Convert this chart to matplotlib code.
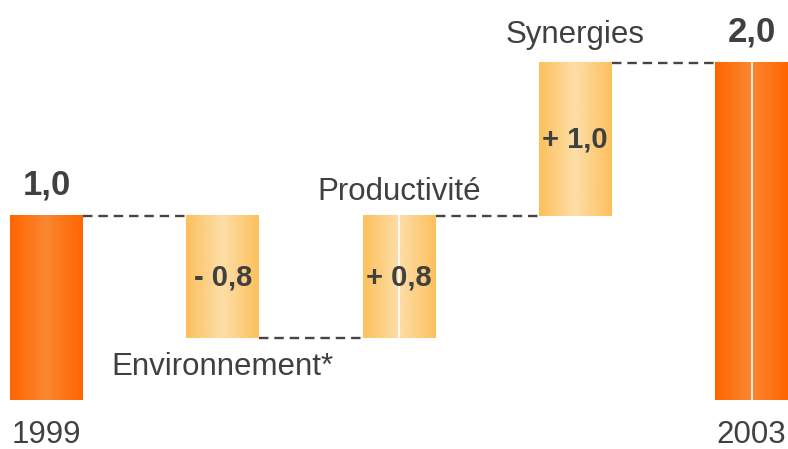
import numpy as np
import matplotlib
matplotlib.use("Agg")
import matplotlib.pyplot as plt
from matplotlib.colors import LinearSegmentedColormap

# ---- data (heights as drawn, in units of the 1999 bar) ----
categories = ["1999", "Environnement*", "Productivité", "Synergies", "2003"]
deltas = [1.0, -0.663, 0.663, 0.832, 1.832]
kinds = ["total", "delta", "delta", "delta", "total"]
value_labels = ["1,0", "- 0,8", "+ 0,8", "+ 1,0", "2,0"]
split_bar = [False, False, True, False, True]

plt.rcParams['font.family'] = ['Liberation Sans', 'DejaVu Sans']

fig = plt.figure(figsize=(7.88, 4.49), dpi=100)
ax = fig.add_axes([0, 0, 1, 1])
ax.set_xlim(-0.264, 4.207)
ax.set_ylim(-0.266, 2.174)
ax.axis("off")

dark_cmap = LinearSegmentedColormap.from_list("d", ["#FF6500", "#FA8732", "#FF6500"])
light_cmap = LinearSegmentedColormap.from_list("l", ["#FDC05C", "#FDDEA8", "#FDC05C"])
grad = np.linspace(0, 1, 256).reshape(1, -1)

width = 0.414
running = 0.0
tops = []
for i, (d, k) in enumerate(zip(deltas, kinds)):
    if k == "total":
        lo, hi = 0.0, d
        running = d
    else:
        start = running
        running = running + d
        lo, hi = min(start, running), max(start, running)
    tops.append((lo, hi))
    cmap = dark_cmap if k == "total" else light_cmap
    ax.imshow(grad, cmap=cmap, aspect="auto", interpolation="bilinear",
              extent=[i - width / 2, i + width / 2, lo, hi], zorder=2)
    if split_bar[i]:
        ax.plot([i, i], [lo, hi], color="white", lw=1.2, zorder=3)

# connectors
levels = []
run = 0.0
for i, (d, k) in enumerate(zip(deltas, kinds)):
    run = d if k == "total" else run + d
    levels.append(run)
for i in range(len(categories) - 1):
    y = levels[i]
    ax.plot([i + width / 2, i + 1 - width / 2], [y, y], color="#454545",
            lw=1.7, ls=(0, (4, 2.5)), zorder=1)

txt = "#404040"
# totals labels above
ax.text(0, tops[0][1] + 0.08, value_labels[0], ha="center", va="bottom",
        fontsize=25, fontweight="bold", color=txt)
ax.text(4, tops[4][1] + 0.08, value_labels[4], ha="center", va="bottom",
        fontsize=25, fontweight="bold", color=txt)
# delta labels inside
for i in (1, 2, 3):
    lo, hi = tops[i]
    ax.text(i, (lo + hi) / 2, value_labels[i], ha="center", va="center",
            fontsize=21, fontweight="bold", color=txt, zorder=4)

# category labels
fs = 22.5
ax.text(0, -0.19, categories[0], ha="center", va="center", fontsize=fs, color=txt)
ax.text(4, -0.19, categories[4], ha="center", va="center", fontsize=fs, color=txt)
ax.text(1, tops[1][0] - 0.16, categories[1], ha="center", va="center", fontsize=fs, color=txt)
ax.text(2, tops[2][1] + 0.13, categories[2], ha="center", va="center", fontsize=fs, color=txt)
ax.text(3, tops[3][1] + 0.15, categories[3], ha="center", va="center", fontsize=fs, color=txt)

fig.savefig("out.png", dpi=100)
